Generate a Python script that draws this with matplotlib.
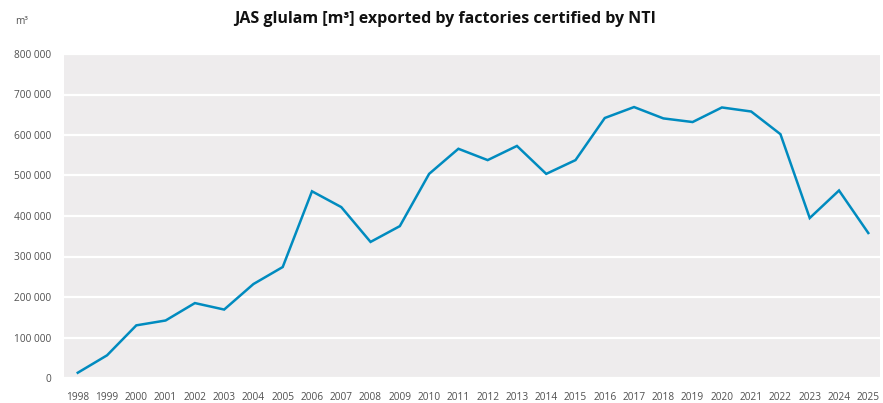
import matplotlib
matplotlib.use("Agg")
import matplotlib.pyplot as plt
from matplotlib.ticker import FuncFormatter

# --- Dados (m3 exportados por ano)
anos = list(range(1998, 2026))
volumes = [13000, 56000, 130000, 142000, 185000, 169000, 232000, 274000,
           461000, 422000, 336000, 375000, 504000, 566000, 538000, 573000,
           504000, 538000, 642000, 669000, 641000, 632000, 668000, 658000,
           602000, 395000, 463000, 358000]
y_ticks = [0, 100000, 200000, 300000, 400000, 500000, 600000, 700000, 800000]

plt.rcParams['font.family'] = ['Open Sans', 'DejaVu Sans']

fig = plt.figure(figsize=(8.83, 4.03), dpi=100)
ax = fig.add_axes([64 / 883, 1 - 378 / 403, 816 / 883, 324 / 403])

ax.set_facecolor('#eeeced')
ax.plot(anos, volumes, color='#008bbf', linewidth=1.8, solid_joinstyle='miter', zorder=3)

ax.set_xlim(1997.53, 2025.4)
ax.set_ylim(0, 800000)
ax.set_yticks(y_ticks)
ax.set_xticks(anos)
ax.set_xticklabels([str(a) for a in anos])

def milhares(x, pos):  # --- separador de milhares com espaço
    return f'{int(x):,}'.replace(',', ' ')
ax.yaxis.set_major_formatter(FuncFormatter(milhares))

ax.grid(axis='y', color='white', linewidth=1.6, zorder=1)
ax.set_axisbelow(True)
for s in ax.spines.values():
    s.set_visible(False)
ax.tick_params(axis='both', length=0, labelsize=7.3, labelcolor='#505050')
ax.tick_params(axis='y', pad=9)
ax.tick_params(axis='x', pad=10)

fig.text(0.504, 1 - 19 / 403, 'JAS glulam [m³] exported by factories certified by NTI',
         ha='center', va='center', fontsize=11.5, fontweight='bold', color='#111111')
fig.text(15 / 883, 1 - 22 / 403, 'm³', ha='left', va='center', fontsize=7.3, color='#505050')

fig.savefig('out.png', dpi=100)
